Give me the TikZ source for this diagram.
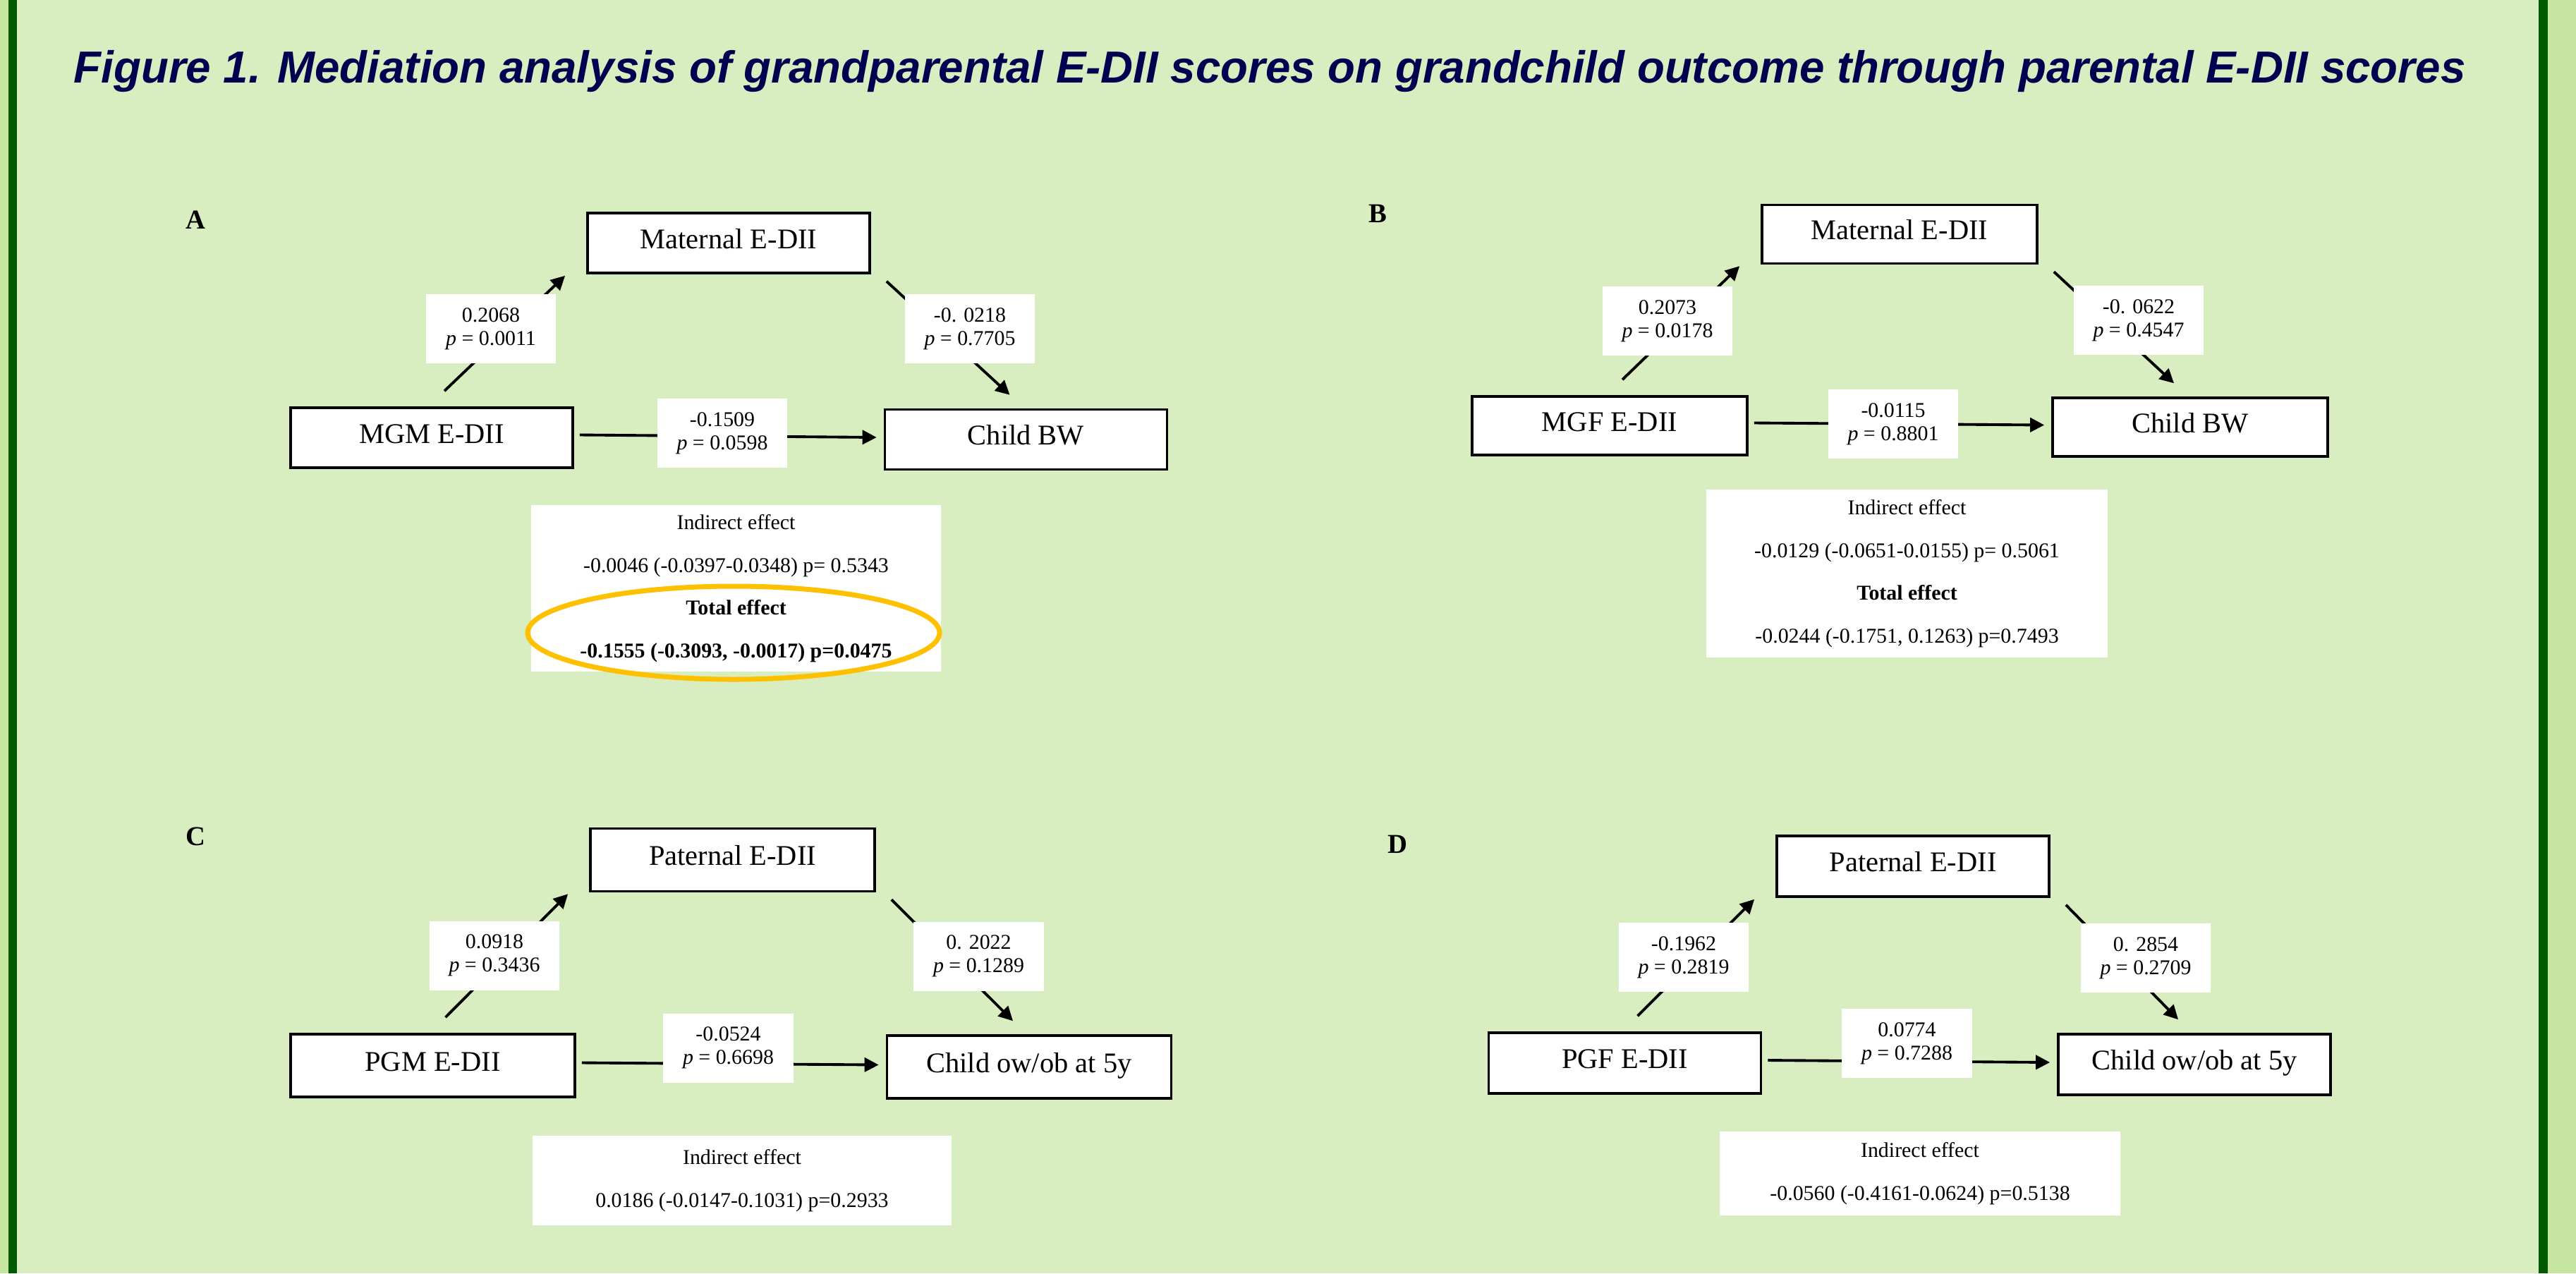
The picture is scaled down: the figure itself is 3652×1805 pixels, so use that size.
\documentclass[tikz,border=0pt]{standalone}
\usepackage{fontspec}
\setmainfont{Liberation Serif}
\newfontfamily\headfont{Liberation Sans}
\usetikzlibrary{arrows.meta,calc}
\definecolor{panelgreen}{RGB}{216,238,192}
\definecolor{stripgreen}{RGB}{197,229,161}
\definecolor{framegreen}{RGB}{0,90,0}
\definecolor{titlenavy}{RGB}{0,0,80}
\definecolor{ringgold}{RGB}{255,192,0}

\begin{document}
\begin{tikzpicture}[
    x=0.01cm, y=-0.01cm,
    varbox/.style={draw, line width=1pt, fill=white, minimum width=4cm, minimum height=0.85cm, text height=0.3cm, text depth=0.15cm, inner sep=0pt, font=\fontsize{11.5}{13}\selectfont},
    coef/.style={fill=white, align=center, minimum width=1.84cm, minimum height=0.98cm, inner sep=0pt, font=\fontsize{8.5}{9.5}\selectfont},
    effectbox/.style={fill=white, align=center, inner sep=0pt, font=\fontsize{8.5}{17.2}\selectfont},
    panelletter/.style={font=\fontsize{11}{13}\selectfont\bfseries},
    effectarrow/.style={line width=1.1pt, -{Triangle[length=0.2cm, width=0.2cm]}},
    figtitle/.style={text=titlenavy, font=\headfont\fontsize{18.1}{22}\selectfont\bfseries\itshape}
]

% Background and side frame
\fill[stripgreen] (0,0) rectangle (3652,1805);
\fill[panelgreen] (24,0) rectangle (3599,1805);
\fill[framegreen] (12,0) rectangle (24,1805);
\fill[framegreen] (3599,0) rectangle (3612,1805);

% Title
\node[figtitle, anchor=base] (title) at (1800,117) {Figure 1. Mediation analysis of grandparental E-DII scores on grandchild outcome through parental E-DII scores};

% Panel A (maternal grandmother)
\node[panelletter] (letterA) at (277,312) {A};
\node[varbox] (medA) at (1033,344.5) {Maternal E-DII};
\node[varbox] (expA) at (612,620.5) {MGM E-DII};
\node[varbox] (outA) at (1454.5,623) {Child BW};
\draw[effectarrow] ([shift={(18,-22)}]expA.north) -- ([shift={(-30,2)}]medA.south west);
\draw[effectarrow] ([shift={(22,10)}]medA.south east) -- ([shift={(-23,-19)}]outA.north);
\draw[effectarrow] ([shift={(8,-4)}]expA.east) -- ([shift={(-10,-3)}]outA.west);
\node[coef] (aA) at (696,466) {0.2068\\\textit{p} = 0.0011};
\node[coef] (bA) at (1375,466) {-0. 0218\\\textit{p} = 0.7705};
\node[coef] (cA) at (1024,614) {-0.1509\\\textit{p} = 0.0598};
\node[effectbox, minimum width=5.81cm, minimum height=2.35cm] (effA) at (1043.5,834) {Indirect effect\\-0.0046 (-0.0397-0.0348) p= 0.5343\\\textbf{Total effect}\\\textbf{-0.1555 (-0.3093, -0.0017) p=0.0475}};
\draw[ringgold, line width=2pt] (1040,897) ellipse [x radius=292, y radius=66];

% Panel B (maternal grandfather)
\node[panelletter] (letterB) at (1953,303) {B};
\node[varbox, minimum width=3.9cm, minimum height=0.83cm] (medB) at (2693,332) {Maternal E-DII};
\node[varbox, minimum width=3.9cm, minimum height=0.83cm] (expB) at (2282,603.5) {MGF E-DII};
\node[varbox, minimum width=3.9cm, minimum height=0.83cm] (outB) at (3105,605.5) {Child BW};
\draw[effectarrow] ([shift={(18,-22)}]expB.north) -- ([shift={(-30,2)}]medB.south west);
\draw[effectarrow] ([shift={(22,10)}]medB.south east) -- ([shift={(-23,-19)}]outB.north);
\draw[effectarrow] ([shift={(8,-4)}]expB.east) -- ([shift={(-10,-3)}]outB.west);
\node[coef] (aB) at (2364,455) {0.2073\\\textit{p} = 0.0178};
\node[coef] (bB) at (3032,454) {-0. 0622\\\textit{p} = 0.4547};
\node[coef] (cB) at (2684,601) {-0.0115\\\textit{p} = 0.8801};
\node[effectbox, minimum width=5.69cm, minimum height=2.38cm] (effB) at (2703.5,813) {Indirect effect\\-0.0129 (-0.0651-0.0155) p= 0.5061\\\textbf{Total effect}\\-0.0244 (-0.1751, 0.1263) p=0.7493};

% Panel C (paternal grandmother)
\node[panelletter] (letterC) at (277,1186) {C};
\node[varbox, minimum width=4.03cm, minimum height=0.89cm] (medC) at (1038.5,1219) {Paternal E-DII};
\node[varbox, minimum width=4.03cm, minimum height=0.89cm] (expC) at (613.5,1510.5) {PGM E-DII};
\node[varbox, minimum width=4.03cm, minimum height=0.89cm] (outC) at (1459,1512.5) {Child ow/ob at 5y};
\draw[effectarrow] ([shift={(18,-22)}]expC.north) -- ([shift={(-30,2)}]medC.south west);
\draw[effectarrow] ([shift={(22,10)}]medC.south east) -- ([shift={(-23,-19)}]outC.north);
\draw[effectarrow] ([shift={(8,-4)}]expC.east) -- ([shift={(-10,-3)}]outC.west);
\node[coef] (aC) at (701,1354.5) {0.0918\\\textit{p} = 0.3436};
\node[coef] (bC) at (1387.5,1355.5) {0. 2022\\\textit{p} = 0.1289};
\node[coef] (cC) at (1032.5,1485.5) {-0.0524\\\textit{p} = 0.6698};
\node[effectbox, minimum width=5.94cm, minimum height=1.27cm] (effC) at (1052,1673.5) {Indirect effect\\0.0186 (-0.0147-0.1031) p=0.2933};

% Panel D (paternal grandfather)
\node[panelletter] (letterD) at (1981,1197) {D};
\node[varbox, minimum width=3.86cm, minimum height=0.86cm] (medD) at (2712,1228) {Paternal E-DII};
\node[varbox, minimum width=3.86cm, minimum height=0.86cm] (expD) at (2303.5,1507) {PGF E-DII};
\node[varbox, minimum width=3.86cm, minimum height=0.86cm] (outD) at (3111,1509) {Child ow/ob at 5y};
\draw[effectarrow] ([shift={(18,-22)}]expD.north) -- ([shift={(-30,2)}]medD.south west);
\draw[effectarrow] ([shift={(22,10)}]medD.south east) -- ([shift={(-23,-19)}]outD.north);
\draw[effectarrow] ([shift={(8,-4)}]expD.east) -- ([shift={(-10,-3)}]outD.west);
\node[coef] (aD) at (2387,1357) {-0.1962\\\textit{p} = 0.2819};
\node[coef] (bD) at (3042,1358) {0. 2854\\\textit{p} = 0.2709};
\node[coef] (cD) at (2703.5,1479) {0.0774\\\textit{p} = 0.7288};
\node[effectbox, minimum width=5.68cm, minimum height=1.19cm] (effD) at (2722,1663.5) {Indirect effect\\-0.0560 (-0.4161-0.0624) p=0.5138};
\end{tikzpicture}
\end{document}
